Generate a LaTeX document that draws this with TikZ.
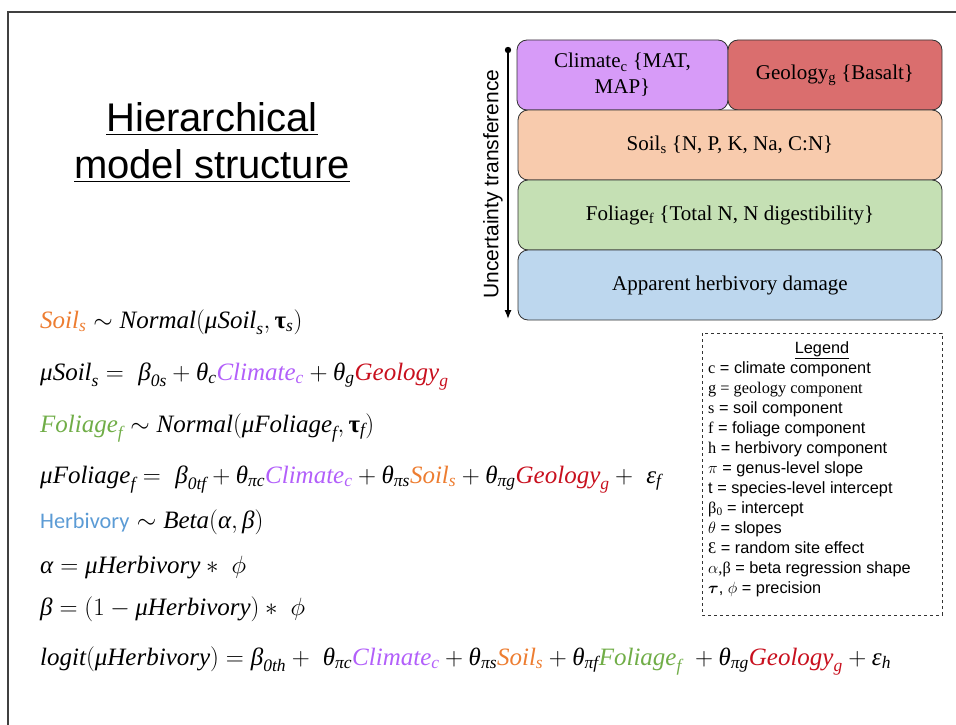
\RequirePackage{fix-cm}
\documentclass[tikz,border=0pt]{standalone}
\usepackage{amsmath}
\usepackage{fontspec}
\usetikzlibrary{arrows.meta}
\newfontfamily\arial{Liberation Sans}
\newfontfamily\cambria{Liberation Serif}
\newfontfamily\calibri{Carlito}
\newcommand{\vi}[1]{\text{\cambria\itshape #1}}
\newcommand{\vs}[1]{_{\vi{#1}}}
\newcommand{\vb}[1]{\text{\cambria\bfseries #1}}
\definecolor{clima}{RGB}{215,155,248}
\definecolor{geologia}{RGB}{218,110,110}
\definecolor{suelo}{RGB}{248,203,173}
\definecolor{follaje}{RGB}{197,224,180}
\definecolor{herbiv}{RGB}{189,215,238}
\definecolor{climaT}{RGB}{178,95,250}
\definecolor{geologiaT}{RGB}{200,16,30}
\definecolor{sueloT}{RGB}{237,125,49}
\definecolor{follajeT}{RGB}{112,173,71}
\definecolor{herbivT}{RGB}{91,155,213}
\begin{document}
\begin{tikzpicture}[x=1pt,y=-1pt,every node/.style={inner sep=0pt},
    capa/.style={draw=black!80,line width=.8pt,rounded corners=10pt,align=center,
        minimum height=70pt,font=\cambria\fontsize{21}{26}\selectfont},
    ecuacion/.style={anchor=base west,font=\fontsize{25}{29}\selectfont},
    leyenda/.style={anchor=base west,font=\arial\fontsize{16.3}{19}\selectfont}]
    \useasboundingbox (0,0) rectangle (956,725);
    \draw[overlay,black!75,line width=1.4pt] (8,12) rectangle (1000,780);
    % Titulo
    \node[anchor=base,font=\arial\fontsize{40}{46}\selectfont] (tit1) at (212,131) {\underline{Hierarchical}};
    \node[anchor=base,font=\arial\fontsize{40}{46}\selectfont] (tit2) at (212,178) {\underline{model structure}};
    % Capas del modelo, de arriba hacia abajo
    \node[capa,fill=clima,minimum width=211pt] (clima) at (622.5,75) {Climate\textsubscript{c} \{MAT,\\MAP\}};
    \node[capa,fill=geologia,minimum width=214pt] (geol) at (835,75) {Geology\textsubscript{g} \{Basalt\}};
    \node[capa,fill=suelo,minimum width=424pt] (suelo) at (730,145) {Soil\textsubscript{s} \{N, P, K, Na, C:N\}};
    \node[capa,fill=follaje,minimum width=424pt] (follaje) at (730,215) {Foliage\textsubscript{f} \{Total N, N digestibility\}};
    \node[capa,fill=herbiv,minimum width=424pt] (herb) at (730,285) {Apparent herbivory damage};
    % Flecha de transferencia de incertidumbre
    \coordinate (inc1) at (508,50);
    \coordinate (inc2) at (508,319);
    \draw[line width=1.3pt,-{Latex[length=9pt,width=7pt]}] (inc1) -- (inc2);
    \fill (inc1) circle (3.2pt);
    \node[rotate=90,font=\arial\fontsize{21}{24}\selectfont] (inc) at (493,184) {Uncertainty transference};
    % Ecuaciones
    \node[ecuacion] (ec1) at (40,328) {${\color{sueloT}\vi{Soil}\vs{s}} \sim \vi{Normal}(\vi{μSoil}\vs{s}, \vb{τ}\vs{s})$};
    \node[ecuacion] (ec2) at (40,380) {$\vi{μSoil}\vs{s} =\ \vi{β}\vs{0s} + \vi{θ}\vs{c}{\color{climaT}\vi{Climate}\vs{c}} + \vi{θ}\vs{g}{\color{geologiaT}\vi{Geology}\vs{g}}$};
    \node[ecuacion] (ec3) at (40,432) {${\color{follajeT}\vi{Foliage}\vs{f}} \sim \vi{Normal}(\vi{μFoliage}\vs{f}, \vb{τ}\vs{f})$};
    \node[ecuacion] (ec4) at (40,483) {$\vi{μFoliage}\vs{f} =\ \vi{β}\vs{0tf} + \vi{θ}\vs{πc}{\color{climaT}\vi{Climate}\vs{c}} + \vi{θ}\vs{πs}{\color{sueloT}\vi{Soil}\vs{s}} + \vi{θ}\vs{πg}{\color{geologiaT}\vi{Geology}\vs{g}} +\ \vi{ε}\vs{f}$};
    \node[ecuacion] (ec5) at (40,528) {{\calibri\fontsize{22.3}{26}\selectfont\color{herbivT}Herbivory} $\sim \vi{Beta}(\vi{α},\vi{β})$};
    \node[ecuacion] (ec6) at (40,573) {$\vi{α} = \vi{μHerbivory} \ast\ \phi$};
    \node[ecuacion] (ec7) at (40,615) {$\vi{β} = (1 - \vi{μHerbivory}) \ast\ \phi$};
    \node[ecuacion] (ec8) at (40,665) {$\vi{logit}(\vi{μHerbivory}) = \vi{β}\vs{0th} +\ \vi{θ}\vs{πc}{\color{climaT}\vi{Climate}\vs{c}} + \vi{θ}\vs{πs}{\color{sueloT}\vi{Soil}\vs{s}} + \vi{θ}\vs{πf}{\color{follajeT}\vi{Foliage}\vs{f}}\ + \vi{θ}\vs{πg}{\color{geologiaT}\vi{Geology}\vs{g}} + \vi{ε}\vs{h}$};
    % Leyenda
    \draw[dashed,black!80,line width=.8pt] (702,333) rectangle (942,615);
    \node[leyenda,anchor=base] (leytit) at (822,353) {\underline{Legend}};
    \foreach \lin [count=\i] in {
        {{\cambria c} = climate component},
        {\cambria g = geology component},
        {{\cambria s} = soil component},
        {{\cambria f} = foliage component},
        {{\cambria h} = herbivory component},
        {$\pi$ = genus-level slope},
        {t = species-level intercept},
        {{\cambria β\textsubscript{0}} = intercept},
        {$\theta$ = slopes},
        {{\cambria Ɛ} = random site effect},
        {$\alpha${\cambria ,β} = beta regression shape},
        {$\boldsymbol{\tau}$, $\phi$ = precision}} {
        \node[leyenda] (ley\i) at (708,{353+20*\i}) {\lin};
    }
\end{tikzpicture}
\end{document}
